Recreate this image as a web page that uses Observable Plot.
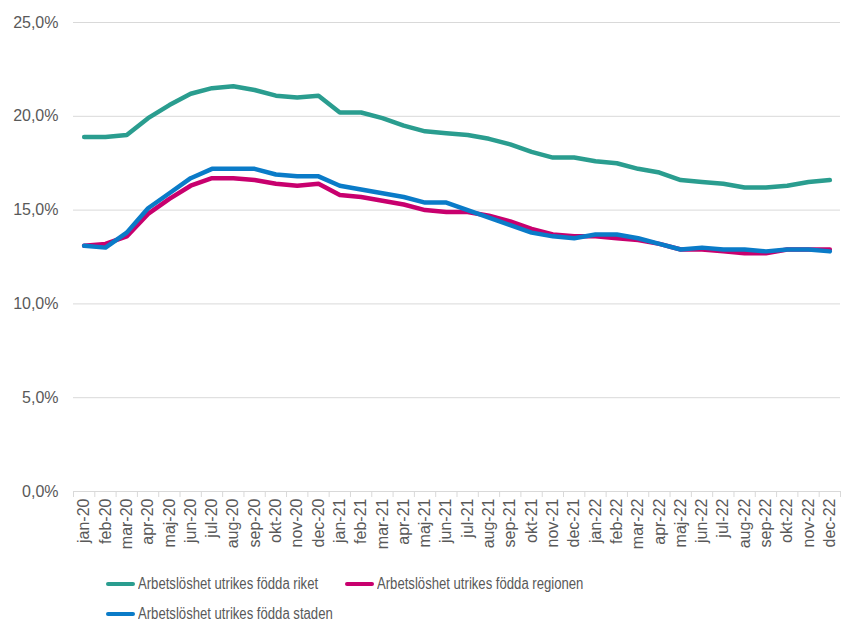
<!DOCTYPE html>
<html>
<head>
<meta charset="utf-8">
<script src="https://cdn.jsdelivr.net/npm/d3@7"></script>
<script src="https://cdn.jsdelivr.net/npm/@observablehq/plot@0.6"></script>
<style>
  html, body { margin: 0; padding: 0; background: #fff; }
  body { width: 842px; height: 623px; overflow: hidden; font-family: "Liberation Sans", Arial, sans-serif; }
  #legend { margin: 9px 0 0 106px; width: 500px; display: flex; flex-wrap: wrap; }
  .item { width: 239px; height: 30px; display: flex; align-items: center; font-size: 16px; color: #595959; white-space: nowrap; }
  .item .t { display: inline-block; transform: scaleX(0.82); transform-origin: left center; }
  .sw { width: 29px; height: 4px; border-radius: 2px; margin-right: 3px; flex: none; }
</style>
</head>
<body>
<div id="chart"></div>
<div id="legend"></div>
<script>
const months = ["jan-20","feb-20","mar-20","apr-20","maj-20","jun-20","jul-20","aug-20","sep-20","okt-20","nov-20","dec-20",
  "jan-21","feb-21","mar-21","apr-21","maj-21","jun-21","jul-21","aug-21","sep-21","okt-21","nov-21","dec-21",
  "jan-22","feb-22","mar-22","apr-22","maj-22","jun-22","jul-22","aug-22","sep-22","okt-22","nov-22","dec-22"];
const riket = [18.9,18.9,19.0,19.9,20.6,21.2,21.5,21.6,21.4,21.1,21.0,21.1,
  20.2,20.2,19.9,19.5,19.2,19.1,19.0,18.8,18.5,18.1,17.8,17.8,
  17.6,17.5,17.2,17.0,16.6,16.5,16.4,16.2,16.2,16.3,16.5,16.6];
const regionen = [13.1,13.2,13.6,14.8,15.6,16.3,16.7,16.7,16.6,16.4,16.3,16.4,
  15.8,15.7,15.5,15.3,15.0,14.9,14.9,14.7,14.4,14.0,13.7,13.6,
  13.6,13.5,13.4,13.2,12.9,12.9,12.8,12.7,12.7,12.9,12.9,12.9];
const staden = [13.1,13.0,13.8,15.1,15.9,16.7,17.2,17.2,17.2,16.9,16.8,16.8,
  16.3,16.1,15.9,15.7,15.4,15.4,15.0,14.6,14.2,13.8,13.6,13.5,
  13.7,13.7,13.5,13.2,12.9,13.0,12.9,12.9,12.8,12.9,12.9,12.8];
const seriesNames = ["Arbetslöshet utrikes födda riket","Arbetslöshet utrikes födda regionen","Arbetslöshet utrikes födda staden"];
const seriesColors = ["#2A9D8F","#C8006E","#0A7BC8"];
const yTicks = [0,5,10,15,20,25];

const allSeries = [riket, regionen, staden];
const data = allSeries.flatMap((vals, s) => vals.map((v, i) => ({i, v, s: seriesNames[s]})));
const idx = months.map((_, i) => i);
const bounds = d3.range(-0.5, months.length, 1);
const fmt = d => d.toFixed(1).replace(".", ",") + "%";

const chart = Plot.plot({
  width: 842,
  height: 560,
  marginLeft: 73,
  marginRight: 2,
  marginTop: 22,
  marginBottom: 69,
  style: { fontFamily: "Liberation Sans, Arial, sans-serif", fontSize: "16px", color: "#595959", background: "#fff" },
  x: { type: "linear", domain: [-0.5, months.length - 0.5] },
  y: { domain: [0, 25] },
  color: { domain: seriesNames, range: seriesColors },
  marks: [
    Plot.ruleY(yTicks, { stroke: "#d9d9d9", strokeWidth: 1 }),
    Plot.axisY(yTicks, { tickSize: 0, tickPadding: 15, tickFormat: fmt, fill: "#595959", label: null }),
    Plot.axisX(bounds, { tickSize: 6, tickFormat: () => "", stroke: "#d9d9d9", label: null }),
    Plot.axisX(idx, { tickSize: 0, tickPadding: 7, tickRotate: -90, tickFormat: i => months[i], fill: "#595959", label: null }),
    Plot.line(data, { x: "i", y: "v", z: "s", stroke: "s", strokeWidth: 4.5, strokeLinejoin: "round", strokeLinecap: "round" })
  ]
});
document.getElementById("chart").appendChild(chart);

const leg = document.getElementById("legend");
seriesNames.forEach((n, k) => {
  const it = document.createElement("div");
  it.className = "item";
  it.innerHTML = `<span class="sw" style="background:${seriesColors[k]}"></span><span class="t">${n}</span>`;
  leg.appendChild(it);
});
</script>
</body>
</html>
